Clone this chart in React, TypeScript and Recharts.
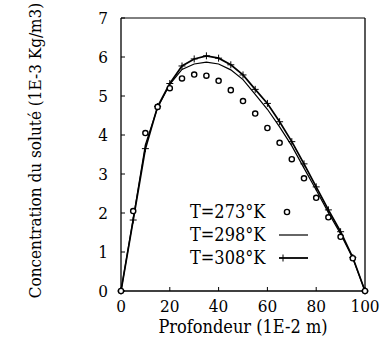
import React from 'react';
import { ComposedChart, Line, XAxis, YAxis, Label } from 'recharts';

const depth = [0, 5, 10, 15, 20, 25, 30, 35, 40, 45, 50, 55, 60, 65, 70, 75, 80, 85, 90, 95, 100];
const t273 = [0, 2.05, 4.05, 4.72, 5.2, 5.45, 5.55, 5.52, 5.39, 5.15, 4.87, 4.55, 4.18, 3.8, 3.38, 2.89, 2.39, 1.89, 1.39, 0.84, 0];
const t298 = [0, 1.85, 3.75, 4.7, 5.3, 5.68, 5.82, 5.87, 5.82, 5.67, 5.42, 5.04, 4.66, 4.21, 3.72, 3.15, 2.59, 2.01, 1.46, 0.84, 0];
const t308 = [0, 1.82, 3.65, 4.73, 5.32, 5.77, 5.95, 6.03, 5.97, 5.8, 5.54, 5.17, 4.81, 4.34, 3.83, 3.26, 2.67, 2.08, 1.52, 0.86, 0];

const xTicks = [0, 20, 40, 60, 80, 100];
const yTicks = [0, 1, 2, 3, 4, 5, 6, 7];
const legendLabels = ['T=273°K', 'T=298°K', 'T=308°K'];

const data = depth.map((x, i) => ({ x, t273: t273[i], t298: t298[i], t308: t308[i] }));

const FONT = '"DejaVu Serif Condensed", "DejaVu Serif", serif';
const FS = 17;
const tickStyle = { fill: '#000', fontSize: FS, fontFamily: FONT, style: { fontFamily: FONT } };

const CircleDot = (props: any) => {
  const { cx, cy } = props;
  if (cx == null || cy == null) return null;
  return <circle cx={cx} cy={cy} r={2.6} fill="#fff" stroke="#000" strokeWidth={1.4} />;
};

const PlusDot = (props: any) => {
  const { cx, cy } = props;
  if (cx == null || cy == null) return null;
  return (
    <g stroke="#000" strokeWidth={1}>
      <line x1={cx - 3.5} y1={cy} x2={cx + 3.5} y2={cy} />
      <line x1={cx} y1={cy - 3.5} x2={cx} y2={cy + 3.5} />
    </g>
  );
};

// legend drawn as an overlay so it does not take space from the plot
const LegendBox = () => (
  <svg width={130} height={75} style={{ position: 'absolute', left: 185, top: 195 }}>
    {legendLabels.map((label, i) => {
      const base = 23 + i * 23;
      const mid = base - 6;
      return (
        <g key={label}>
          <text x={5} y={base} fontSize={18} style={{ fontFamily: FONT }} fill="#000">{label}</text>
          {i === 0 && <circle cx={102} cy={mid} r={2.6} fill="#fff" stroke="#000" strokeWidth={1.4} />}
          {i === 1 && <line x1={94} y1={mid} x2={123} y2={mid} stroke="#000" strokeWidth={1.2} />}
          {i === 2 && (
            <g stroke="#000">
              <line x1={94} y1={mid} x2={123} y2={mid} strokeWidth={1.8} />
              <line x1={98} y1={mid - 3.5} x2={98} y2={mid + 3.5} strokeWidth={1} />
            </g>
          )}
        </g>
      );
    })}
  </svg>
);

export default function App() {
  return (
    <div style={{ position: 'absolute', left: 0, top: 0, width: 385, height: 349, background: '#fff', fontFamily: FONT }}>
      <ComposedChart
        width={385}
        height={349}
        data={data}
        margin={{ top: 17, right: 19, bottom: 57, left: 120 }}
        style={{ fontFamily: FONT }}
      >
        <XAxis
          xAxisId={0}
          type="number"
          dataKey="x"
          domain={[0, 100]}
          ticks={xTicks}
          height={1}
          tickSize={-4}
          tickMargin={13}
          tick={tickStyle}
          axisLine={{ stroke: '#000', strokeWidth: 1.3 }}
          tickLine={{ stroke: '#000' }}
        >
          <Label
            content={(p: any) => {
              const vb = p.viewBox;
              return (
                <text
                  x={vb.x + vb.width / 2}
                  y={333}
                  textAnchor="middle"
                  fontSize={18}
                  style={{ fontFamily: FONT }}
                  fill="#000"
                >
                  Profondeur (1E-2 m)
                </text>
              );
            }}
          />
        </XAxis>
        <XAxis
          xAxisId="top"
          orientation="top"
          type="number"
          dataKey="x"
          domain={[0, 100]}
          ticks={xTicks}
          height={1}
          tickSize={-4}
          tick={false}
          axisLine={{ stroke: '#000', strokeWidth: 1 }}
          tickLine={{ stroke: '#000' }}
        />
        <YAxis
          yAxisId={0}
          type="number"
          domain={[0, 7]}
          ticks={yTicks}
          width={1}
          tickSize={-4}
          tickMargin={17}
          tick={tickStyle}
          axisLine={{ stroke: '#000', strokeWidth: 1.3 }}
          tickLine={{ stroke: '#000' }}
        >
          <Label
            content={(p: any) => {
              const vb = p.viewBox;
              const cy = vb.y + vb.height / 2 - 4;
              return (
                <text
                  x={41}
                  y={cy}
                  transform={`rotate(-90 41 ${cy})`}
                  textAnchor="middle"
                  fontSize={FS}
                  style={{ fontFamily: FONT }}
                  fill="#000"
                >
                  Concentration du soluté (1E-3 Kg/m3)
                </text>
              );
            }}
          />
        </YAxis>
        <YAxis
          yAxisId="right"
          orientation="right"
          type="number"
          domain={[0, 7]}
          ticks={yTicks}
          width={1}
          tickSize={-4}
          tick={false}
          axisLine={{ stroke: '#000', strokeWidth: 1.3 }}
          tickLine={{ stroke: '#000' }}
        />
        <Line
          dataKey="t298"
          type="linear"
          stroke="#000"
          strokeWidth={1.2}
          dot={false}
          isAnimationActive={false}
          legendType="none"
        />
        <Line
          dataKey="t308"
          type="linear"
          stroke="#000"
          strokeWidth={1.7}
          dot={<PlusDot />}
          isAnimationActive={false}
          legendType="none"
        />
        <Line
          dataKey="t273"
          type="linear"
          stroke="none"
          dot={<CircleDot />}
          isAnimationActive={false}
          legendType="none"
        />
      </ComposedChart>
      <LegendBox />
    </div>
  );
}
